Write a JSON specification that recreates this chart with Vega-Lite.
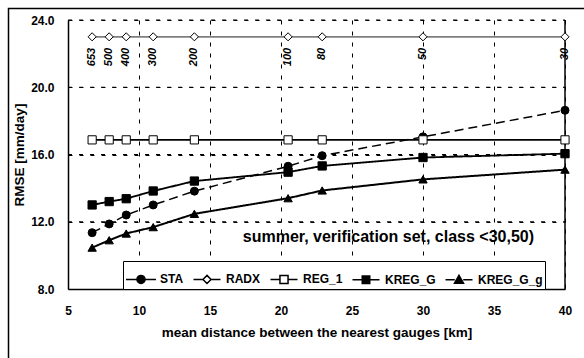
{
  "$schema": "https://vega.github.io/schema/vega-lite/v6.json",
  "width": 497,
  "height": 269,
  "autosize": "none",
  "padding": {"left": 68, "top": 20, "right": 19, "bottom": 69},
  "background": "white",
  "config": {
    "font": "Liberation Sans",
    "view": {"stroke": null},
    "axis": {
      "labelFont": "Liberation Sans", "labelFontWeight": "bold", "labelFontSize": 12, "labelColor": "black",
      "titleFont": "Liberation Sans", "titleFontWeight": "bold", "titleFontSize": 13.5, "titleColor": "black",
      "ticks": false, "domainColor": "black", "domainWidth": 1.5, "grid": true,
      "gridColor": "black", "gridDash": [4, 7], "gridWidth": 1, "gridOpacity": 1
    }
  },
  "datasets": {
    "series": [
      {"series": "STA", "x": 6.7, "y": 11.35, "n": "653"},
      {"series": "STA", "x": 7.9, "y": 11.87, "n": "500"},
      {"series": "STA", "x": 9.1, "y": 12.4, "n": "400"},
      {"series": "STA", "x": 11.0, "y": 13.0, "n": "300"},
      {"series": "STA", "x": 13.9, "y": 13.82, "n": "200"},
      {"series": "STA", "x": 20.5, "y": 15.3, "n": "100"},
      {"series": "STA", "x": 22.9, "y": 15.93, "n": "80"},
      {"series": "STA", "x": 30.0, "y": 17.05, "n": "50"},
      {"series": "STA", "x": 40.0, "y": 18.63, "n": "30"},
      {"series": "RADX", "x": 6.7, "y": 23.0, "n": "653"},
      {"series": "RADX", "x": 7.9, "y": 23.0, "n": "500"},
      {"series": "RADX", "x": 9.1, "y": 23.0, "n": "400"},
      {"series": "RADX", "x": 11.0, "y": 23.0, "n": "300"},
      {"series": "RADX", "x": 13.9, "y": 23.0, "n": "200"},
      {"series": "RADX", "x": 20.5, "y": 23.0, "n": "100"},
      {"series": "RADX", "x": 22.9, "y": 23.0, "n": "80"},
      {"series": "RADX", "x": 30.0, "y": 23.0, "n": "50"},
      {"series": "RADX", "x": 40.0, "y": 23.0, "n": "30"},
      {"series": "REG_1", "x": 6.7, "y": 16.87, "n": "653"},
      {"series": "REG_1", "x": 7.9, "y": 16.87, "n": "500"},
      {"series": "REG_1", "x": 9.1, "y": 16.87, "n": "400"},
      {"series": "REG_1", "x": 11.0, "y": 16.87, "n": "300"},
      {"series": "REG_1", "x": 13.9, "y": 16.87, "n": "200"},
      {"series": "REG_1", "x": 20.5, "y": 16.87, "n": "100"},
      {"series": "REG_1", "x": 22.9, "y": 16.87, "n": "80"},
      {"series": "REG_1", "x": 30.0, "y": 16.87, "n": "50"},
      {"series": "REG_1", "x": 40.0, "y": 16.87, "n": "30"},
      {"series": "KREG_G", "x": 6.7, "y": 13.0, "n": "653"},
      {"series": "KREG_G", "x": 7.9, "y": 13.2, "n": "500"},
      {"series": "KREG_G", "x": 9.1, "y": 13.37, "n": "400"},
      {"series": "KREG_G", "x": 11.0, "y": 13.83, "n": "300"},
      {"series": "KREG_G", "x": 13.9, "y": 14.42, "n": "200"},
      {"series": "KREG_G", "x": 20.5, "y": 14.95, "n": "100"},
      {"series": "KREG_G", "x": 22.9, "y": 15.32, "n": "80"},
      {"series": "KREG_G", "x": 30.0, "y": 15.82, "n": "50"},
      {"series": "KREG_G", "x": 40.0, "y": 16.05, "n": "30"},
      {"series": "KREG_G_g", "x": 6.7, "y": 10.46, "n": "653"},
      {"series": "KREG_G_g", "x": 7.9, "y": 10.9, "n": "500"},
      {"series": "KREG_G_g", "x": 9.1, "y": 11.3, "n": "400"},
      {"series": "KREG_G_g", "x": 11.0, "y": 11.68, "n": "300"},
      {"series": "KREG_G_g", "x": 13.9, "y": 12.47, "n": "200"},
      {"series": "KREG_G_g", "x": 20.5, "y": 13.4, "n": "100"},
      {"series": "KREG_G_g", "x": 22.9, "y": 13.86, "n": "80"},
      {"series": "KREG_G_g", "x": 30.0, "y": 14.52, "n": "50"},
      {"series": "KREG_G_g", "x": 40.0, "y": 15.1, "n": "30"}
    ],
    "ygrid": [{"g": 12}, {"g": 16}, {"g": 20}, {"g": 24}],
    "note": [{"note": "summer, verification set, class <30,50)"}],
    "frame": [{"frame": "border"}]
  },
  "resolve": {
    "scale": {"shape": "independent", "fill": "independent", "size": "independent"}
  },
  "layer": [
    {
      "data": {"name": "series"},
      "mark": {"type": "line"},
      "encoding": {
        "x": {
          "field": "x", "type": "quantitative",
          "scale": {"domain": [5, 40], "nice": false, "zero": false},
          "axis": {"values": [5, 10, 15, 20, 25, 30, 35, 40], "grid": true, "domain": true, "labelPadding": 16, "titlePadding": 9, "title": "mean distance between the nearest gauges [km]", "labelFlush": false}
        },
        "y": {
          "field": "y", "type": "quantitative",
          "scale": {"domain": [8, 24], "nice": false, "zero": false},
          "axis": {"values": [8, 12, 16, 20, 24], "format": ".1f", "grid": true, "domain": true, "labelPadding": 14, "titlePadding": 4, "title": "RMSE [mm/day]", "labelFlush": false}
        },
        "color": {"field": "series", "type": "nominal", "legend": null,
          "scale": {"domain": ["STA", "RADX", "REG_1", "KREG_G", "KREG_G_g"], "range": ["black", "#7f7f7f", "black", "black", "black"]}},
        "strokeDash": {"field": "series", "type": "nominal", "legend": null,
          "scale": {"domain": ["STA", "RADX", "REG_1", "KREG_G", "KREG_G_g"], "range": [[9, 5], [1, 0], [1, 0], [1, 0], [1, 0]]}},
        "strokeWidth": {"field": "series", "type": "nominal", "legend": null,
          "scale": {"domain": ["STA", "RADX", "REG_1", "KREG_G", "KREG_G_g"], "range": [1.5, 2, 1, 1.5, 1.5]}}
      }
    },
    {
      "data": {"name": "ygrid"},
      "mark": {"type": "rule", "stroke": "black", "strokeWidth": 1, "strokeDash": [4, 7]},
      "encoding": {
        "y": {"field": "g", "type": "quantitative", "axis": {"grid": true}},
        "x": {"datum": 5, "type": "quantitative", "axis": {"grid": true}},
        "x2": {"datum": 40}
      }
    },
    {
      "data": {"name": "frame"},
      "mark": {"type": "rect", "filled": false, "stroke": "black", "strokeWidth": 1.5},
      "encoding": {
        "x": {"datum": 0.81, "type": "quantitative", "axis": {"grid": true}},
        "x2": {"datum": 43},
        "y": {"datum": 24.69, "type": "quantitative", "axis": {"grid": true}},
        "y2": {"datum": 2}
      }
    },
    {
      "data": {"name": "frame"},
      "mark": {"type": "rule", "stroke": "black", "strokeWidth": 1.5},
      "encoding": {
        "x": {"datum": 40, "type": "quantitative", "axis": {"grid": true}},
        "y": {"datum": 8, "type": "quantitative", "axis": {"grid": true}},
        "y2": {"datum": 24}
      }
    },
    {
      "data": {"name": "series"},
      "mark": {"type": "point", "filled": true, "stroke": "black", "strokeWidth": 1, "opacity": 1},
      "encoding": {
        "x": {"field": "x", "type": "quantitative"},
        "y": {"field": "y", "type": "quantitative"},
        "shape": {"field": "series", "type": "nominal", "legend": null,
          "scale": {"domain": ["STA", "RADX", "REG_1", "KREG_G", "KREG_G_g"], "range": ["circle", "diamond", "square", "square", "triangle-up"]}},
        "fill": {"field": "series", "type": "nominal", "legend": null,
          "scale": {"domain": ["STA", "RADX", "REG_1", "KREG_G", "KREG_G_g"], "range": ["black", "white", "white", "black", "black"]}},
        "size": {"field": "series", "type": "nominal", "legend": null,
          "scale": {"domain": ["STA", "RADX", "REG_1", "KREG_G", "KREG_G_g"], "range": [64, 70, 81, 56, 80]}}
      }
    },
    {
      "data": {"name": "series"},
      "mark": {"type": "point", "filled": true, "stroke": "black", "strokeWidth": 1.5, "opacity": 0},
      "encoding": {
        "x": {"field": "x", "type": "quantitative"},
        "y": {"field": "y", "type": "quantitative"},
        "shape": {"field": "series", "type": "nominal",
          "scale": {"domain": ["STA", "RADX", "REG_1", "KREG_G", "KREG_G_g"],
            "range": [
              "M-1,0H-0.27M0.27,0H1M-0.27,0A0.27,0.27,0,1,0,0.27,0A0.27,0.27,0,1,0,-0.27,0Z",
              "M-0.9,0H-0.27M0.27,0H0.9M-0.27,0L0,-0.27L0.27,0L0,0.27Z",
              "M-0.9,0H-0.27M0.27,0H0.9M-0.27,-0.27H0.27V0.27H-0.27Z",
              "M-0.9,0H-0.25M0.25,0H0.9M-0.25,-0.25H0.25V0.25H-0.25Z",
              "M-0.9,0H-0.28M0.28,0H0.9M0,-0.3L0.3,0.22H-0.3Z"
            ]},
          "legend": {"orient": "none", "legendX": 55, "legendY": 241, "direction": "horizontal", "title": null,
            "strokeColor": "black", "fillColor": "white", "padding": 2, "columnPadding": 6, "labelOffset": 3,
            "symbolSize": 900, "symbolStrokeWidth": 1.5, "symbolStrokeColor": "black",
            "labelFont": "Liberation Sans", "labelFontWeight": "bold", "labelFontSize": 12, "labelColor": "black",
            "symbolOpacity": 1,
            "encode": {"symbols": {"update": {"opacity": {"value": 1}, "stroke": {"value": "black"}}}}}
        },
        "fill": {"field": "series", "type": "nominal",
          "scale": {"domain": ["STA", "RADX", "REG_1", "KREG_G", "KREG_G_g"], "range": ["black", "white", "white", "black", "black"]},
          "legend": {"orient": "none", "legendX": 55, "legendY": 241, "direction": "horizontal", "title": null,
            "strokeColor": "black", "fillColor": "white", "padding": 2, "columnPadding": 6, "labelOffset": 3,
            "symbolSize": 900, "symbolStrokeWidth": 1.5, "symbolStrokeColor": "black",
            "labelFont": "Liberation Sans", "labelFontWeight": "bold", "labelFontSize": 12, "labelColor": "black",
            "symbolOpacity": 1,
            "encode": {"symbols": {"update": {"opacity": {"value": 1}, "stroke": {"value": "black"}}}}}
        }
      }
    },
    {
      "data": {"name": "series"},
      "transform": [{"filter": "datum.series === 'RADX'"}],
      "mark": {"type": "text", "angle": 270, "align": "right", "baseline": "middle", "dx": -11,
        "font": "Liberation Sans", "fontSize": 11, "fontWeight": "bold", "fontStyle": "italic", "color": "black"},
      "encoding": {
        "x": {"field": "x", "type": "quantitative"},
        "y": {"field": "y", "type": "quantitative"},
        "text": {"field": "n", "type": "nominal"}
      }
    },
    {
      "data": {"name": "note"},
      "mark": {"type": "text", "align": "right", "baseline": "middle", "font": "Liberation Sans", "fontSize": 16, "fontWeight": "bold", "color": "black"},
      "encoding": {
        "x": {"datum": 37.82, "type": "quantitative", "axis": {"grid": true}},
        "y": {"datum": 11.1, "type": "quantitative", "axis": {"grid": true}},
        "text": {"field": "note", "type": "nominal"}
      }
    }
  ]
}
